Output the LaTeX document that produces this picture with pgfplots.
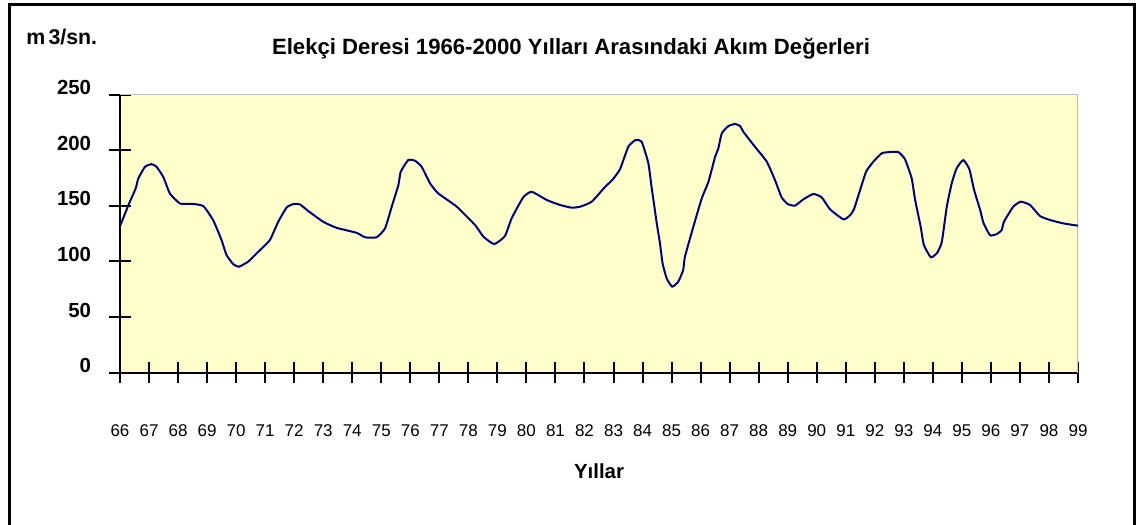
\documentclass[border=0pt]{standalone}
\usepackage{fontspec}
\setmainfont{Liberation Sans}
\usepackage{pgfplots}
\pgfplotsset{compat=1.18}
\definecolor{bgyellow}{HTML}{FFFFCC}
\definecolor{linenavy}{HTML}{000080}
\definecolor{edgegray}{HTML}{C0C0C0}
\begin{document}
\begin{tikzpicture}[x=0.75pt,y=0.75pt]
\useasboundingbox (0,0) rectangle (1137,524);
% outer chart frame (bottom edge falls outside the picture)
\draw[line width=2pt] (9.5,-5) -- (9.5,519.3) -- (1134.5,519.3) -- (1134.5,-5);
\node[anchor=base, inner sep=0pt, font=\bfseries\fontsize{16.6}{19}\selectfont] at (571,469)
  {Elekçi Deresi 1966-2000 Yılları Arasındaki Akım Değerleri};
\node[anchor=base west, inner sep=0pt, font=\bfseries\fontsize{16}{19}\selectfont] at (26,479)
  {m\kern2.5pt 3/sn.};
\node[anchor=base, inner sep=0pt, font=\bfseries\fontsize{15.3}{18}\selectfont] at (599,45) {Yıllar};
\begin{axis}[
    at={(90pt,113.5pt)}, anchor=south west, scale only axis,
    width=718.5pt, height=208.6pt,
    xmin=66, xmax=99, ymin=0, ymax=250,
    xtick={66,...,99}, ytick={0,50,...,250},
    axis x line*=bottom, axis y line*=left,
    axis line style={-, line width=1.5pt, black},
    tick align=center, major tick length=16pt,
    tick style={black, line width=1.5pt},
    axis background/.style={fill=bgyellow},
    /pgf/number format/assume math mode=true,
    scaled ticks=false,
    xticklabel style={anchor=base, inner sep=0pt, yshift=-40pt,
        font=\fontsize{12.75}{14}\selectfont},
    yticklabel style={anchor=base east, inner sep=0pt, xshift=-13.5pt,
        font=\bfseries\fontsize{15.3}{18}\selectfont},
]
\draw[edgegray, line width=1pt] (rel axis cs:0,1) -- (rel axis cs:1,1) -- (rel axis cs:1,0);
\addplot[linenavy, line width=1.5pt, smooth, tension=0.3, mark=none] coordinates {
(66.00,131.7) (66.29,150.6) (66.54,165.6) (66.63,174.5) (66.86,185.0)
(67.09,187.4) (67.26,185.0) (67.49,176.0) (67.72,161.0) (68.07,152.0)
(68.47,151.8) (68.87,149.7) (69.21,137.0) (69.50,119.0) (69.67,105.7)
(69.90,97.6) (70.09,95.2) (70.41,99.7) (70.76,108.6) (71.16,119.1)
(71.45,135.6) (71.74,148.5) (71.97,151.5) (72.20,151.2) (72.49,145.2)
(73.00,135.6) (73.46,130.2) (74.15,125.7) (74.44,121.7) (74.84,121.7)
(75.13,129.7) (75.36,149.2) (75.59,168.7) (75.67,180.6) (75.93,191.1)
(76.16,190.5) (76.39,185.1) (76.68,170.2) (76.96,161.2) (77.60,149.2)
(78.23,132.7) (78.52,122.2) (78.89,115.6) (79.26,122.8) (79.49,138.7)
(79.89,157.6) (80.18,162.6) (80.70,155.2) (81.16,150.7) (81.56,148.3)
(81.85,149.2) (82.25,153.7) (82.71,167.0) (82.95,173.0) (83.22,182.7)
(83.51,203.1) (83.76,209.1) (83.97,207.6) (84.20,188.2) (84.31,167.1)
(84.49,134.2) (84.60,116.3) (84.69,98.3) (84.83,84.8) (85.02,77.3)
(85.23,81.8) (85.40,92.3) (85.46,104.2) (85.75,131.2) (86.04,156.7)
(86.27,171.6) (86.50,194.1) (86.61,201.6) (86.73,215.1) (86.96,221.7)
(87.19,223.5) (87.36,221.7) (87.47,216.6) (87.87,203.1) (88.28,189.6)
(88.56,173.2) (88.79,157.6) (89.00,151.6) (89.25,150.1) (89.54,155.8)
(89.88,160.6) (90.17,157.6) (90.46,146.8) (90.92,137.8) (91.15,141.5)
(91.28,146.8) (91.43,158.8) (91.70,180.6) (91.95,189.6) (92.24,197.2)
(92.52,198.3) (92.81,198.3) (93.04,191.8) (93.27,174.7) (93.39,155.2)
(93.58,131.2) (93.69,114.8) (93.93,103.7) (94.15,107.8) (94.31,117.7)
(94.48,149.2) (94.65,170.2) (94.82,183.7) (95.05,191.1) (95.26,182.7)
(95.42,164.2) (95.63,146.2) (95.74,134.8) (95.97,123.5) (96.20,124.6)
(96.37,128.2) (96.45,135.7) (96.77,149.2) (97.03,153.7) (97.35,150.7)
(97.69,140.8) (98.04,137.2) (98.49,134.2) (99.00,132.1)
};
\end{axis}
\end{tikzpicture}
\end{document}
